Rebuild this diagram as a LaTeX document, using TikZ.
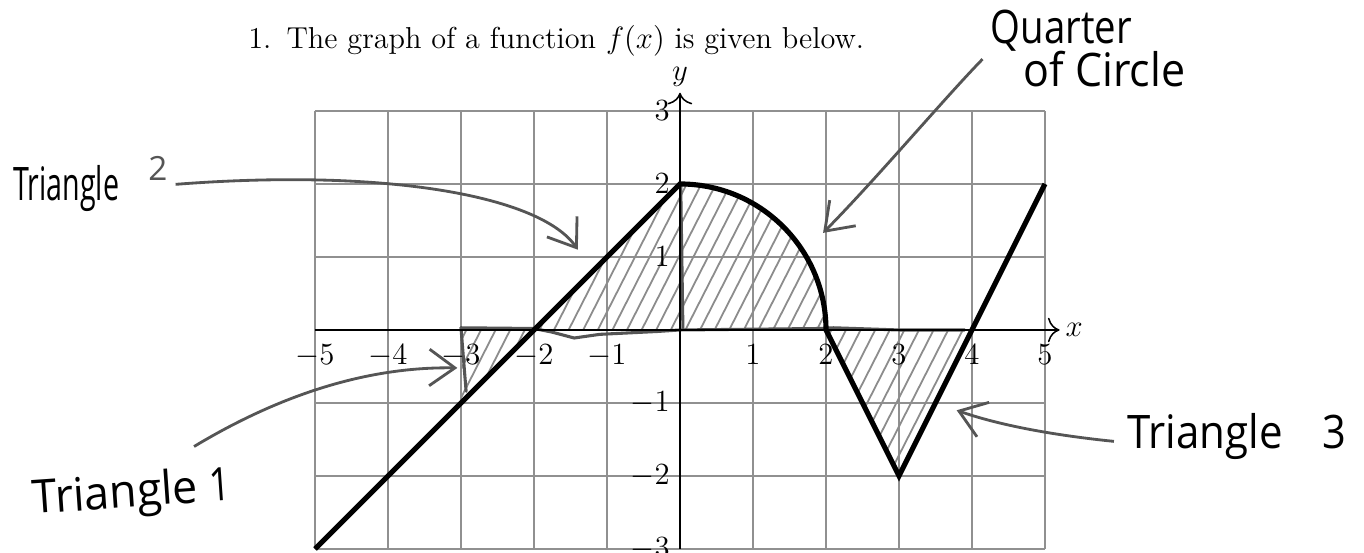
\documentclass[tikz,border=0pt]{standalone}
\usepackage{fontspec}
\usepackage{graphicx}
\usetikzlibrary{arrows.meta, positioning}
\newfontfamily\handfont{Open Sans}
\newcommand{\hw}[2]{\scalebox{#1}[1]{#2}}
\definecolor{pencil}{HTML}{555555}
\definecolor{hatchgray}{HTML}{8C8C8C}
\definecolor{gridgray}{HTML}{909090}

\begin{document}
\begin{tikzpicture}[
    font=\fontsize{11.8}{14}\selectfont,
    gridline/.style={gridgray, line width=0.45pt},
    axisline/.style={-{To[length=1.6mm]}, line width=0.6pt},
    graph/.style={line width=2pt, black},
    hatch/.style={hatchgray, line width=0.7pt},
    pencil line/.style={pencil, line width=1.2pt, line cap=round, line join=round},
    handarr/.style={-{Straight Barb[length=3.5mm, width=5mm]}, pencil, line width=1.1pt},
    hand/.style={font=\handfont\fontsize{18}{20}\selectfont, inner sep=0pt, anchor=base west},
    tick/.style={inner sep=1pt}
]
\useasboundingbox (-9.315,-3.042) rectangle (9.370,4.520);

\node[anchor=base west, inner sep=0] (title) at (-5.92,3.86)
    {1.\hspace{0.5em}The graph of a function $f(x)$ is given below.};

\draw[gridline] (-5,-3) grid (5,3);

% shaded pieces
\begin{scope}
  \clip (-3,0) -- (-2,0) -- (-3,-1) -- cycle
        (-2,0) -- (0,2) -- (0,0) -- cycle
        (0,0) -- (0,2) arc[start angle=90, end angle=0, radius=2] -- cycle
        (2,0) -- (3,-2) -- (4,0) -- cycle;
  \foreach \s in {-4.4,-4.2,...,3.0}
    \draw[hatch] (\s,-2.5) -- ++(63:5.4);
\end{scope}

\draw[pencil line] (0.04,0.02) -- (0.01,1.97);
\draw[pencil line] (-3,0.03) -- (-2.93,-0.84);
\draw[pencil line] (-3,0.03) -- (-2,0.02) -- (-1.75,-0.03) -- (-1.45,-0.11) -- (-1.1,-0.06)
    -- (-0.3,-0.02) -- (0,0) -- (1.9,0.02) -- (2.1,0.03) -- (3,0) -- (3.9,0);

\draw[axisline] (-5,0) -- (5.2,0) node[right, inner sep=2pt] (xlab) {$x$};
\draw[axisline] (0,-3) -- (0,3.25) node[above, inner sep=2pt] (ylab) {$y$};

\foreach \x in {-5,...,-1,1,2,...,5}
    \node[tick, anchor=north] (xt\x) at (\x,-0.16) {$\x$};
\foreach \y in {-3,...,-1,1,2,3}
    \node[tick, anchor=east] (yt\y) at (-0.1,\y) {$\y$};

\draw[graph] (-5,-3) -- (0,2) arc[start angle=90, end angle=0, radius=2] -- (3,-2) -- (5,2);

% handwritten notes
\node[hand] (t2) at (-9.14,1.77)
    {\hw{0.62}{Triangle}\hspace{0.4cm}\raisebox{0.8ex}{\fontsize{13}{13}\selectfont\color{pencil}2}};
\node[hand, rotate=4] (t1) at (-8.86,-2.52) {\hw{0.97}{Triangle}\ \hw{0.8}{1}};
\node[hand] (t3) at (6.12,-1.62) {\hw{0.91}{Triangle}\hspace{0.55cm}\hw{0.9}{3}};
\node[hand] (q1) at (4.25,3.93) {\hw{0.83}{Quarter}};
\node[hand] (q2) at (4.70,3.34) {\hw{0.93}{of Circle}};

\coordinate (t2tip) at (-1.40,1.10);
\coordinate (t1tip) at (-3.05,-0.52);
\coordinate (qtip) at (1.96,1.33);
\coordinate (t3tip) at (3.79,-1.10);

\draw[handarr] ([xshift=3pt]t2.east) .. controls (-4.0,2.22) and (-1.9,1.83) .. (t2tip);
\draw[handarr] ([xshift=-14pt, yshift=7pt]t1.north east) .. controls (-5.5,-0.9) and (-4.3,-0.5) .. (t1tip);
\draw[handarr] ([xshift=-3pt, yshift=-3pt]q1.south west) .. controls (3.6,3.15) and (2.7,2.08) .. (qtip);
\draw[handarr] ([xshift=-5pt, yshift=-2pt]t3.west) .. controls (5.0,-1.43) and (4.3,-1.28) .. (t3tip);
\end{tikzpicture}
\end{document}
